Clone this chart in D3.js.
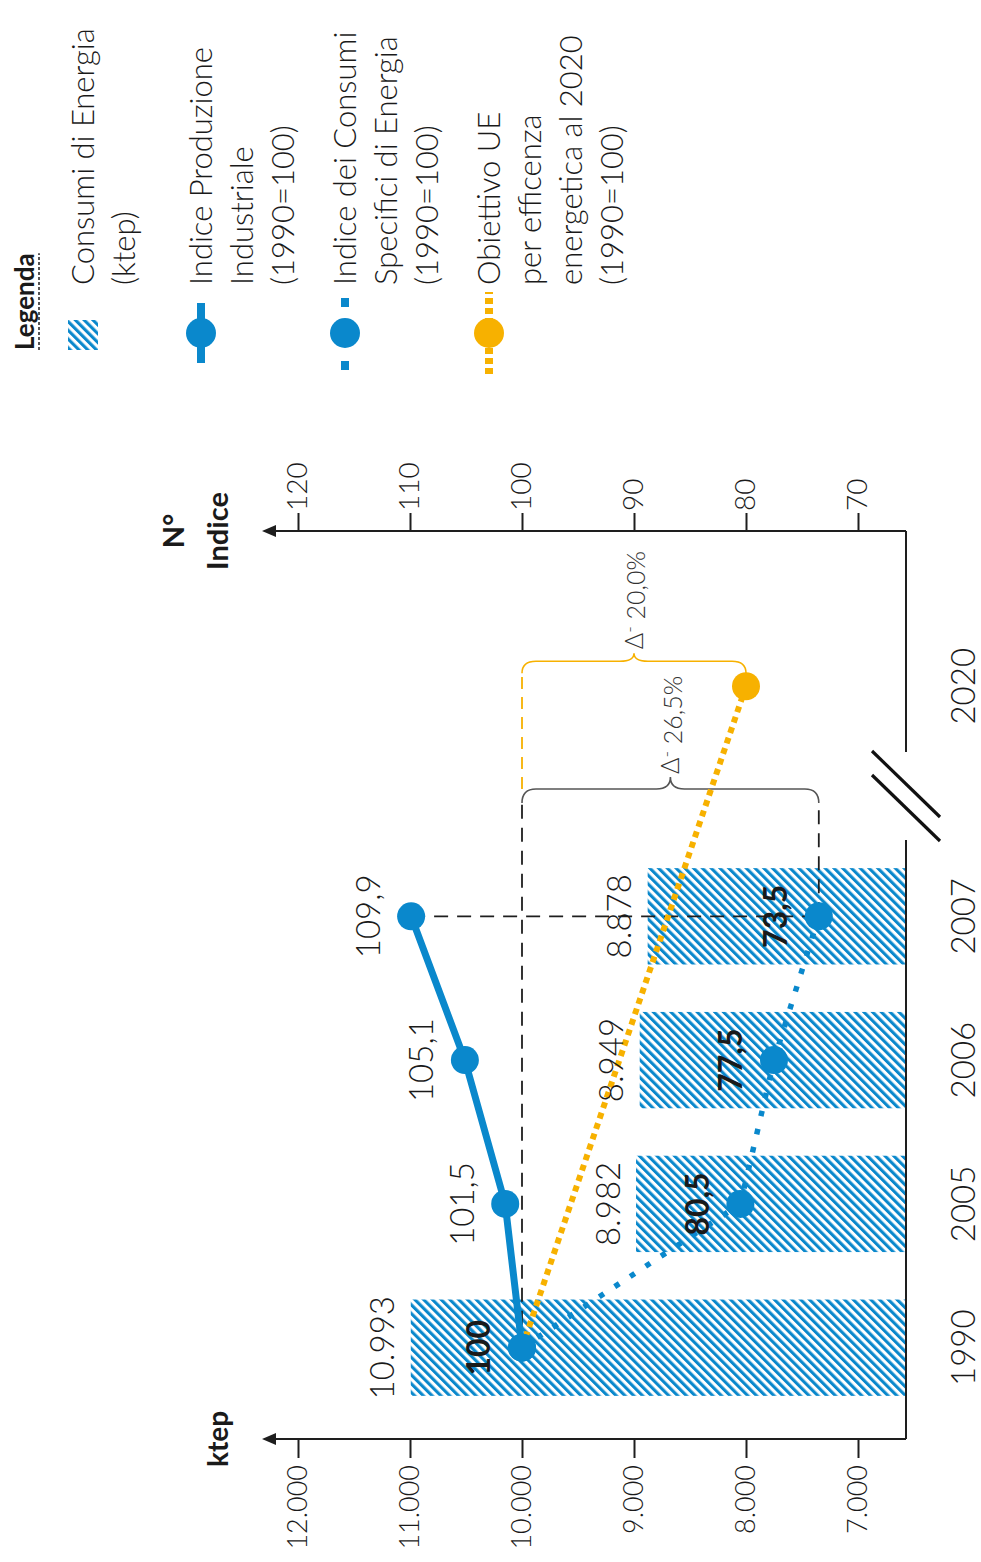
<!DOCTYPE html>
<html>
<head>
<meta charset="utf-8">
<script src="https://cdn.jsdelivr.net/npm/d3@7"></script>
<style>
  html, body { margin: 0; padding: 0; background: #ffffff; }
  svg { display: block; }
  text { font-family: Lato, "Liberation Sans", Arial, sans-serif; fill: #1a1a1a; font-weight: 300; }
</style>
</head>
<body>
<svg id="chart" width="981" height="1562"></svg>
<script>
// ---- Data ---------------------------------------------------------------
const years = ["1990", "2005", "2006", "2007"];
const targetYear = "2020";
const energyKtep = [10993, 8982, 8949, 8878];          // Consumi di Energia (ktep)
const productionIndex = [100, 101.5, 105.1, 109.9];     // Indice Produzione Industriale
const specificIndex = [100, 80.5, 77.5, 73.5];          // Indice Consumi Specifici
const targetIndex = [100, 80];                          // Obiettivo UE 1990 -> 2020
const ktepTicks = [12000, 11000, 10000, 9000, 8000, 7000];
const indexTicks = [120, 110, 100, 90, 80, 70];
const legendEntries = [
  { kind: "bar",        lines: ["Consumi di Energia", "(ktep)"] },
  { kind: "production", lines: ["Indice Produzione", "Industriale", "(1990=100)"] },
  { kind: "specific",   lines: ["Indice dei Consumi", "Specifici di Energia", "(1990=100)"] },
  { kind: "target",     lines: ["Obiettivo UE", "per efficenza", "energetica al 2020", "(1990=100)"] }
];

// ---- Styling ------------------------------------------------------------
const BLUE = "#0a88cc";
const ORANGE = "#f7b100";
const INK = "#1e1e1e";

// The chart is laid out in a landscape frame (u along the years, v down the
// values) and turned a quarter turn counter-clockwise onto the portrait page.
const W = 1562, H = 981;
const svg = d3.select("#chart");
const defs = svg.append("defs");
const g = svg.append("g").attr("transform", `translate(0,${W}) rotate(-90)`);

const HP = 6.2;
const hatch = defs.append("pattern")
  .attr("id", "hatch")
  .attr("patternUnits", "userSpaceOnUse")
  .attr("width", HP).attr("height", HP)
  .attr("patternTransform", "rotate(45)");
hatch.append("rect").attr("width", HP).attr("height", HP).attr("fill", "#fff");
hatch.append("rect").attr("width", HP / 2).attr("height", HP).attr("fill", BLUE);

// ---- Geometry & scales --------------------------------------------------
const axisLeftU = 123, axisRightU = 1031, baseV = 906, topV = 262;
const yKtep = d3.scaleLinear().domain([7000, 12000]).range([858, 298]);
const yIdx = d3.scaleLinear().domain([70, 120]).range([858, 298]);
const x = d3.scaleBand().domain(years).range([axisLeftU, 737])
  .paddingInner(0.33).paddingOuter(0.3);
const cx = d => x(d) + x.bandwidth() / 2;
const x2020 = cx(years[years.length - 1]) + 1.6 * x.step();
const breakU = x.range()[1] + 29;
const breakHalf = 44;

const it = d3.formatLocale({ decimal: ",", thousands: ".", grouping: [3], currency: ["€", ""] });
const fmtKtep = it.format(",.0f");
const fmtIdx = v => Number.isInteger(v) ? String(v) : v.toFixed(1).replace(".", ",");

// ---- Bars ---------------------------------------------------------------
const barData = years.map((y, i) => ({ year: y, value: energyKtep[i] }));
g.append("g").selectAll("rect").data(barData).join("rect")
  .attr("x", d => x(d.year))
  .attr("y", d => yKtep(d.value))
  .attr("width", x.bandwidth())
  .attr("height", d => baseV - yKtep(d.value))
  .attr("fill", "url(#hatch)");

// ---- Axes ---------------------------------------------------------------
const leftAxis = g.append("g")
  .attr("transform", `translate(${axisLeftU},0)`)
  .attr("color", INK)
  .call(d3.axisLeft(yKtep).tickValues(ktepTicks).tickSize(19).tickPadding(7).tickFormat(fmtKtep));
leftAxis.select(".domain").remove();
leftAxis.selectAll("text").attr("font-size", 27).attr("font-family", null);
leftAxis.selectAll("line").attr("stroke-width", 2);

const rightAxis = g.append("g")
  .attr("transform", `translate(${axisRightU},0)`)
  .attr("color", INK)
  .call(d3.axisRight(yIdx).tickValues(indexTicks).tickSize(18).tickPadding(2));
rightAxis.select(".domain").remove();
rightAxis.selectAll("text").attr("font-size", 28).attr("font-family", null);
rightAxis.selectAll("line").attr("stroke-width", 2);

// vertical axis lines with arrow heads
[axisLeftU, axisRightU].forEach(u => {
  g.append("line").attr("x1", u).attr("x2", u).attr("y1", baseV).attr("y2", topV + 10)
    .attr("stroke", INK).attr("stroke-width", 2);
  g.append("path").attr("d", `M${u},${topV} L${u - 6},${topV + 14} L${u + 6},${topV + 14} Z`)
    .attr("fill", INK);
});

// base line with a break before the 2020 target
g.append("line").attr("x1", axisLeftU).attr("x2", breakU - breakHalf)
  .attr("y1", baseV).attr("y2", baseV).attr("stroke", INK).attr("stroke-width", 2);
g.append("line").attr("x1", breakU + breakHalf).attr("x2", axisRightU)
  .attr("y1", baseV).attr("y2", baseV).attr("stroke", INK).attr("stroke-width", 2);
[-12, 12].forEach(off => {
  g.append("line")
    .attr("x1", breakU + off + 33).attr("y1", baseV - 34)
    .attr("x2", breakU + off - 33).attr("y2", baseV + 34)
    .attr("stroke", "#111").attr("stroke-width", 3.2);
});

// axis titles
g.append("text").attr("x", axisLeftU).attr("y", 228).attr("text-anchor", "middle")
  .attr("font-size", 28).style("font-weight", "bold").text("ktep");
g.append("text").attr("x", axisRightU).attr("y", 184).attr("text-anchor", "middle")
  .attr("font-size", 29).style("font-weight", "bold").text("N°");
g.append("text").attr("x", axisRightU).attr("y", 228).attr("text-anchor", "middle")
  .attr("font-size", 29).style("font-weight", "bold").text("Indice");

// year labels
g.append("g").selectAll("text").data(years.concat([targetYear])).join("text")
  .attr("x", d => d === targetYear ? x2020 : cx(d))
  .attr("y", 963).attr("dy", "0.35em").attr("text-anchor", "middle")
  .attr("font-size", 33).text(d => d);

// ---- Reference lines & braces -------------------------------------------
const uFirst = cx(years[0]);
const uLast = cx(years[years.length - 1]);
const grayBase = breakU - 7;
const orangeBase = x2020 + 13;
const dashed = (sel, color, w, dash) => sel.attr("stroke", color).attr("stroke-width", w)
  .attr("stroke-dasharray", dash).attr("fill", "none");

g.append("line").attr("x1", uLast).attr("x2", uLast)
  .attr("y1", yIdx(productionIndex[3])).attr("y2", yIdx(specificIndex[3]))
  .call(dashed, INK, 1.8, "14 9");
g.append("line").attr("x1", uFirst).attr("x2", grayBase)
  .attr("y1", yIdx(100)).attr("y2", yIdx(100))
  .call(dashed, INK, 1.8, "14 9");
g.append("line").attr("x1", uLast).attr("x2", grayBase)
  .attr("y1", yIdx(specificIndex[3])).attr("y2", yIdx(specificIndex[3]))
  .call(dashed, INK, 1.8, "14 9");
g.append("line").attr("x1", grayBase + 14).attr("x2", orangeBase)
  .attr("y1", yIdx(100)).attr("y2", yIdx(100))
  .call(dashed, ORANGE, 1.8, "12 8");

function brace(v0, v1, base, depth, tip) {
  const vm = (v0 + v1) / 2, r = 14, b = base + depth;
  return `M${base},${v0} Q${b},${v0} ${b},${v0 + r} L${b},${vm - r} Q${b},${vm} ${b + tip},${vm}` +
         ` Q${b},${vm} ${b},${vm + r} L${b},${v1 - r} Q${b},${v1} ${base},${v1}`;
}
g.append("path").attr("d", brace(yIdx(100), yIdx(specificIndex[3]), grayBase, 14, 12))
  .attr("fill", "none").attr("stroke", "#555").attr("stroke-width", 1.6);
g.append("path").attr("d", brace(yIdx(100), yIdx(targetIndex[1]), orangeBase, 12, 8))
  .attr("fill", "none").attr("stroke", ORANGE).attr("stroke-width", 1.6);

function deltaLabel(u, v, change) {
  const t = g.append("text").attr("x", u).attr("y", v).attr("dy", "0.35em")
    .attr("font-size", 25).attr("text-anchor", "start").style("fill", "#333");
  t.append("tspan").text("Δ");
  t.append("tspan").attr("dy", "-0.35em").attr("font-size", 18).text("-");
  t.append("tspan").attr("dy", "0.35em").text(" " + Math.abs(change).toFixed(1).replace(".", ",") + "%");
}
deltaLabel(grayBase + 14 + 12 + 3, (yIdx(100) + yIdx(specificIndex[3])) / 2, specificIndex[3] - 100);
deltaLabel(orangeBase + 12 + 8 + 4, (yIdx(100) + yIdx(targetIndex[1])) / 2, targetIndex[1] - 100);

// ---- Series lines -------------------------------------------------------
const line = d3.line();
const targetPts = [[uFirst, yIdx(targetIndex[0])], [x2020, yIdx(targetIndex[1])]];
const specPts = years.map((y, i) => [cx(y), yIdx(specificIndex[i])]);
const prodPts = years.map((y, i) => [cx(y), yIdx(productionIndex[i])]);

g.append("path").attr("d", line(targetPts)).attr("fill", "none")
  .attr("stroke", ORANGE).attr("stroke-width", 6).attr("stroke-dasharray", "6 5");
g.append("path").attr("d", line(specPts)).attr("fill", "none")
  .attr("stroke", BLUE).attr("stroke-width", 5.5).attr("stroke-dasharray", "5.5 13");
g.append("path").attr("d", line(prodPts)).attr("fill", "none")
  .attr("stroke", BLUE).attr("stroke-width", 7).attr("stroke-linejoin", "round");

// ---- Dots ---------------------------------------------------------------
g.append("circle").attr("cx", x2020).attr("cy", yIdx(targetIndex[1])).attr("r", 14).attr("fill", ORANGE);
g.append("g").selectAll("circle").data(specPts).join("circle")
  .attr("cx", d => d[0]).attr("cy", d => d[1]).attr("r", 14).attr("fill", BLUE);
g.append("g").selectAll("circle").data(prodPts).join("circle")
  .attr("cx", d => d[0]).attr("cy", d => d[1]).attr("r", 14).attr("fill", BLUE);

// ---- Value labels -------------------------------------------------------
g.append("g").selectAll("text").data(barData).join("text")
  .attr("x", d => cx(d.year)).attr("y", d => yKtep(d.value) - 28).attr("dy", "0.35em")
  .attr("text-anchor", "middle").attr("font-size", 33).text(d => fmtKtep(d.value));

g.append("g").selectAll("text")
  .data(years.map((y, i) => ({ year: y, value: productionIndex[i] })).slice(1))
  .join("text")
  .attr("x", d => cx(d.year)).attr("y", d => yIdx(d.value) - 43).attr("dy", "0.35em")
  .attr("text-anchor", "middle").attr("font-size", 33).text(d => fmtIdx(d.value));

g.append("g").selectAll("text")
  .data(years.map((y, i) => ({ year: y, value: specificIndex[i] })))
  .join("text")
  .attr("x", d => cx(d.year)).attr("y", d => yIdx(d.value) - 43).attr("dy", "0.35em")
  .attr("text-anchor", "middle").attr("font-size", 32).style("font-weight", "bold")
  .text(d => fmtIdx(d.value));

// ---- Legend -------------------------------------------------------------
const legStartU = 1212, markerU = 1229, legTextU = 1277;
const title = g.append("text").attr("x", legStartU).attr("y", 34)
  .attr("font-size", 26).style("font-weight", "bold").text("Legenda");
const titleLen = title.node().getComputedTextLength();
g.append("line").attr("x1", legStartU).attr("x2", legStartU + titleLen)
  .attr("y1", 39).attr("y2", 39).attr("stroke", INK).attr("stroke-width", 1.5)
  .attr("stroke-dasharray", "3 2");

const lineGap = 41;
let baseline = 94;
legendEntries.forEach(entry => {
  const mv = baseline - 11;
  if (entry.kind === "bar") {
    g.append("rect").attr("x", legStartU).attr("y", mv - 15).attr("width", 30).attr("height", 30)
      .attr("fill", "url(#hatch)");
  } else {
    const color = entry.kind === "target" ? ORANGE : BLUE;
    const seg = g.append("line").attr("y1", mv).attr("y2", mv)
      .attr("stroke", color).attr("stroke-width", 8);
    if (entry.kind === "production") seg.attr("x1", markerU - 30).attr("x2", markerU + 30);
    if (entry.kind === "specific") seg.attr("x1", markerU - 37).attr("x2", markerU + 35).attr("stroke-dasharray", "9 54");
    if (entry.kind === "target") seg.attr("x1", markerU - 41).attr("x2", markerU + 41).attr("stroke-dasharray", "6 4");
    g.append("circle").attr("cx", markerU).attr("cy", mv).attr("r", 15).attr("fill", color);
  }
  entry.lines.forEach((ln, i) => {
    g.append("text").attr("x", legTextU).attr("y", baseline + i * lineGap)
      .attr("font-size", 31).text(ln);
  });
  baseline += Math.max(entry.lines.length * lineGap, 97) + 21;
});
</script>
</body>
</html>
